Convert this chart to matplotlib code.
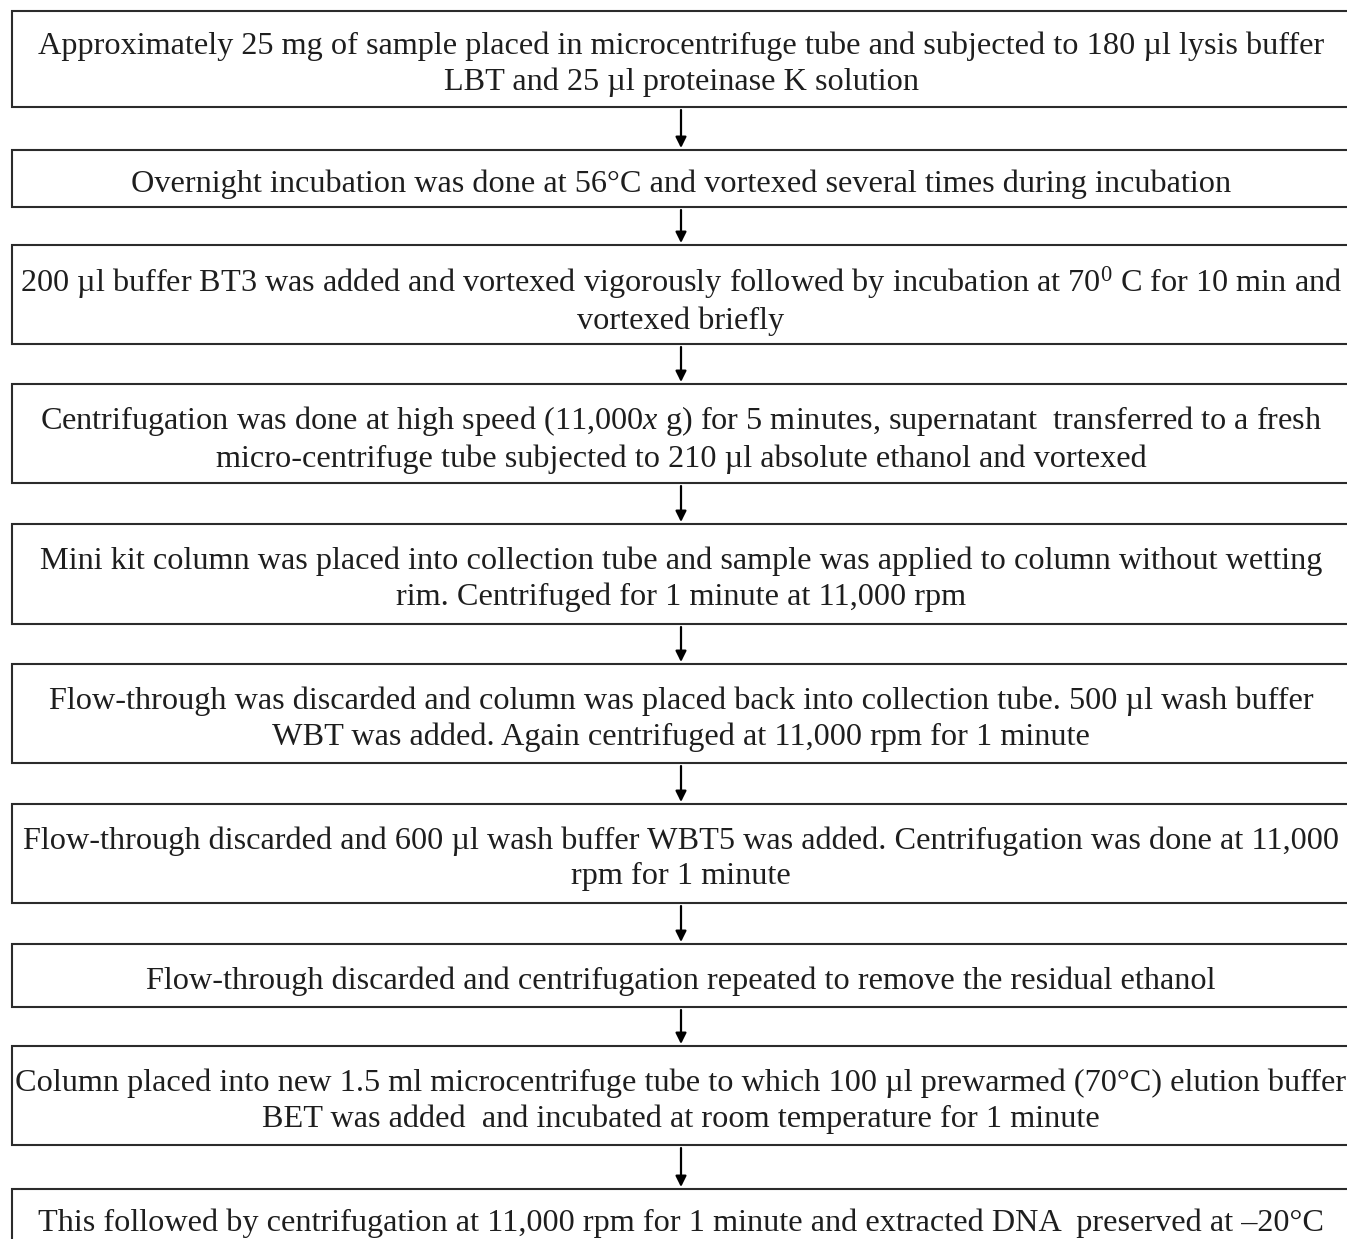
"""
DNA extraction protocol flowchart.
"""

import matplotlib

matplotlib.use("Agg")
import matplotlib.pyplot as plt
from matplotlib.patches import Rectangle

plt.rcParams["font.family"] = ["Liberation Serif", "DejaVu Serif"]
plt.rcParams["mathtext.fontset"] = "custom"
plt.rcParams["mathtext.rm"] = "Liberation Serif"
plt.rcParams["mathtext.it"] = "Liberation Serif:italic"

# steps of the protocol, top to bottom
steps = [
    "Approximately 25 mg of sample placed in microcentrifuge tube and subjected to 180 µl lysis buffer\n"
    "LBT and 25 µl proteinase K solution",
    "Overnight incubation was done at 56°C and vortexed several times during incubation",
    "200 µl buffer BT3 was added and vortexed vigorously followed by incubation at 70$^{0}$ C for 10 min and\n"
    "vortexed briefly",
    "Centrifugation was done at high speed (11,000$x$ g) for 5 minutes, supernatant  transferred to a fresh\n"
    "micro-centrifuge tube subjected to 210 µl absolute ethanol and vortexed",
    "Mini kit column was placed into collection tube and sample was applied to column without wetting\n"
    "rim. Centrifuged for 1 minute at 11,000 rpm",
    "Flow-through was discarded and column was placed back into collection tube. 500 µl wash buffer\n"
    "WBT was added. Again centrifuged at 11,000 rpm for 1 minute",
    "Flow-through discarded and 600 µl wash buffer WBT5 was added. Centrifugation was done at 11,000\n"
    "rpm for 1 minute",
    "Flow-through discarded and centrifugation repeated to remove the residual ethanol",
    "Column placed into new 1.5 ml microcentrifuge tube to which 100 µl prewarmed (70°C) elution buffer\n"
    "BET was added  and incubated at room temperature for 1 minute",
    "This followed by centrifugation at 11,000 rpm for 1 minute and extracted DNA  preserved at –20°C",
]

# layout in pixels: (top, bottom) of each box
box_spans = [
    (11, 107), (150, 207), (245, 344), (384, 483), (524, 624),
    (664, 763), (804, 903), (944, 1007), (1046, 1145), (1189, 1290),
]

W, H = 1347, 1239
LEFT, RIGHT = 12, 1352
CX = 681
EDGE = "#2b2b2b"
TEXT = "#1e1e1e"

fig = plt.figure(figsize=(W / 100, H / 100), dpi=100)
ax = fig.add_axes([0, 0, 1, 1])
ax.set_xlim(0, W)
ax.set_ylim(H, 0)
ax.axis("off")

for i, (label, (top, bottom)) in enumerate(zip(steps, box_spans)):
    ax.add_patch(
        Rectangle((LEFT, top), RIGHT - LEFT, bottom - top, facecolor="white", edgecolor=EDGE, lw=1.5)
    )
    if bottom > H:
        ty = top + 34
    else:
        ty = (top + bottom) / 2 + 5.5
    ax.text(CX, ty, label, ha="center", va="center", fontsize=23.2, color=TEXT, linespacing=1.28)

    if i < len(steps) - 1:
        nxt = box_spans[i + 1][0]
        ax.annotate(
            "",
            xy=(CX, nxt - 2),
            xytext=(CX, bottom + 3),
            arrowprops=dict(arrowstyle="-|>", color="black", lw=1.6, mutation_scale=16, shrinkA=0, shrinkB=0),
        )

fig.savefig("out.png", dpi=100)
plt.close(fig)
